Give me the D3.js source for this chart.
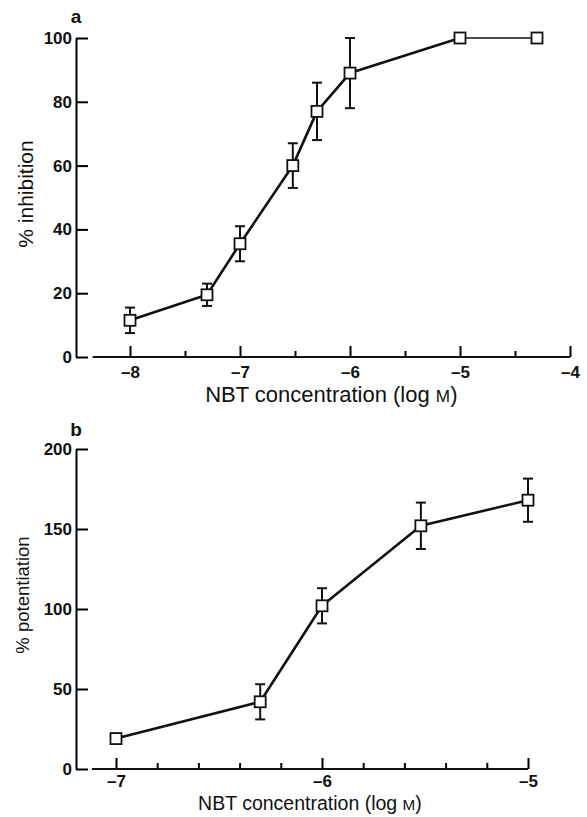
<html>
<head>
<meta charset="utf-8">
<style>
body { margin: 0; background: #fff; }
text { font-family: "Liberation Sans", Arial, sans-serif; fill: #111; }
</style>
</head>
<body>
<svg id="svg" width="587" height="817"></svg>
<script src="https://d3js.org/d3.v7.min.js"></script>
<script>

// panel a: % inhibition vs NBT (log M)
var concA  = [-8, -7.3, -7, -6.52, -6.3, -6, -5, -4.3];
var inhibA = [11.5, 19.5, 35.5, 60, 77, 89, 100, 100];
var semA   = [4, 3.5, 5.5, 7, 9, 11, 0, 0];
var xTicksA = [-8, -7, -6, -5, -4];
var xMinorA = [-7.5, -6.5, -5.5, -4.5];
var yTicksA = [0, 20, 40, 60, 80, 100];

// panel b: % potentiation vs NBT (log M)
var concB = [-7, -6.3, -6, -5.52, -5];
var potB  = [19, 42, 102, 152, 168];
var semB  = [2, 11, 11, 14.5, 13.5];
var xTicksB = [-7, -6, -5];
var xMinorB = [-6.8, -6.6, -6.4, -6.2, -5.8, -5.6, -5.4, -5.2];
var yTicksB = [0, 50, 100, 150, 200];

var svg = d3.select("#svg");
var fmt = d => "\u2013" + Math.abs(d);

function panel(o) {
  var g = svg.append("g");
  var x = d3.scaleLinear().domain(o.xDom).range(o.xRange);
  var y = d3.scaleLinear().domain(o.yDom).range(o.yRange);

  // y axis, ticks pointing inward
  g.append("g").attr("transform", "translate(" + o.yAxisX + ",0)")
    .call(d3.axisLeft(y).tickValues(o.yTicks).tickSize(-12).tickSizeOuter(0).tickPadding(4))
    .call(s => s.select(".domain").attr("stroke-width", 2))
    .call(s => s.selectAll(".tick line").attr("stroke-width", 2))
    .call(s => s.selectAll(".tick text").style("font-size", "17px").style("font-weight", "bold")
      .attr("fill", "#111").style("font-family", "Liberation Sans, Arial, sans-serif"));

  var base = y(o.yDom[0]);

  // x axis: minor ticks then major ticks
  g.append("g").attr("transform", "translate(0," + base + ")")
    .call(d3.axisBottom(x).tickValues(o.xMinor).tickSize(-6).tickFormat(""))
    .call(s => s.select(".domain").remove())
    .call(s => s.selectAll(".tick line").attr("stroke-width", 2));
  g.append("g").attr("transform", "translate(0," + base + ")")
    .call(d3.axisBottom(x).tickValues(o.xTicks).tickSize(-11).tickPadding(o.xPad).tickFormat(fmt))
    .call(s => s.select(".domain").remove())
    .call(s => s.selectAll(".tick line").attr("stroke-width", 2))
    .call(s => s.selectAll(".tick text").style("font-size", "17px").style("font-weight", "bold")
      .attr("fill", "#111").style("font-family", "Liberation Sans, Arial, sans-serif"));
  g.append("line")
    .attr("x1", x(o.xStart)).attr("x2", x(o.xDom[1]))
    .attr("y1", base).attr("y2", base)
    .attr("stroke", "#111").attr("stroke-width", 2.2);

  // axis titles
  var xt = g.append("text")
    .attr("x", (x(o.xStart) + x(o.xDom[1])) / 2).attr("y", o.xTitleY)
    .attr("text-anchor", "middle").style("font-size", o.xTitleSize + "px")
    .text("NBT concentration (log ");
  xt.append("tspan").style("font-size", (o.xTitleSize * 0.78) + "px").text("M");
  xt.append("tspan").text(")");

  g.append("text")
    .attr("transform", "translate(" + o.yTitleX + "," + o.yTitleY + ") rotate(-90)")
    .attr("text-anchor", "middle").style("font-size", o.yTitleSize + "px")
    .text(o.yTitle);

  g.append("text")
    .attr("x", o.yAxisX).attr("y", o.tagY)
    .attr("text-anchor", "middle").style("font-size", "19px").style("font-weight", "bold")
    .text(o.tag);

  var pts = o.xs.map((v, i) => ({ x: v, y: o.ys[i], e: o.es[i] }));

  // connecting line (last segment of a is drawn thin)
  var line = d3.line().x(d => x(d.x)).y(d => y(d.y));
  var n = o.thinLast ? pts.length - 1 : pts.length;
  g.append("path").datum(pts.slice(0, n))
    .attr("d", line).attr("fill", "none")
    .attr("stroke", "#111").attr("stroke-width", 2.6).attr("stroke-linejoin", "round");
  if (o.thinLast) {
    g.append("path").datum(pts.slice(n - 1))
      .attr("d", line).attr("fill", "none")
      .attr("stroke", "#111").attr("stroke-width", 1.3);
  }

  // error bars
  var eb = g.selectAll("g.eb").data(pts.filter(d => d.e > 0))
    .join("g").classed("eb", true)
    .attr("stroke", "#111").attr("stroke-width", 2);
  eb.append("line")
    .attr("x1", d => x(d.x)).attr("x2", d => x(d.x))
    .attr("y1", d => y(d.y - d.e)).attr("y2", d => y(d.y + d.e));
  eb.append("line")
    .attr("x1", d => x(d.x) - 5).attr("x2", d => x(d.x) + 5)
    .attr("y1", d => y(d.y + d.e)).attr("y2", d => y(d.y + d.e));
  eb.append("line")
    .attr("x1", d => x(d.x) - 5).attr("x2", d => x(d.x) + 5)
    .attr("y1", d => y(d.y - d.e)).attr("y2", d => y(d.y - d.e));

  // open square markers
  g.selectAll("rect.mk").data(pts)
    .join("rect").classed("mk", true)
    .attr("x", d => x(d.x) - 5.5).attr("y", d => y(d.y) - 5.5)
    .attr("width", 11).attr("height", 11)
    .attr("fill", "#fff").attr("stroke", "#111").attr("stroke-width", 1.8);
}

panel({
  xDom: [-8, -4], xRange: [130, 570], xStart: -8.34,
  yDom: [0, 100], yRange: [357, 38], yAxisX: 76,
  xTicks: xTicksA, xMinor: xMinorA, yTicks: yTicksA, xPad: 9,
  xs: concA, ys: inhibA, es: semA, thinLast: true,
  xTitleY: 402, xTitleSize: 22,
  yTitle: "% inhibition", yTitleX: 33, yTitleY: 194, yTitleSize: 21,
  tag: "a", tagY: 23
});

panel({
  xDom: [-7, -5], xRange: [116, 528], xStart: -7.117,
  yDom: [0, 200], yRange: [769, 449], yAxisX: 76,
  xTicks: xTicksB, xMinor: xMinorB, yTicks: yTicksB, xPad: 6,
  xs: concB, ys: potB, es: semB, thinLast: false,
  xTitleY: 810, xTitleSize: 19.5,
  yTitle: "% potentiation", yTitleX: 29, yTitleY: 595, yTitleSize: 18.5,
  tag: "b", tagY: 436
});

</script>
</body>
</html>
